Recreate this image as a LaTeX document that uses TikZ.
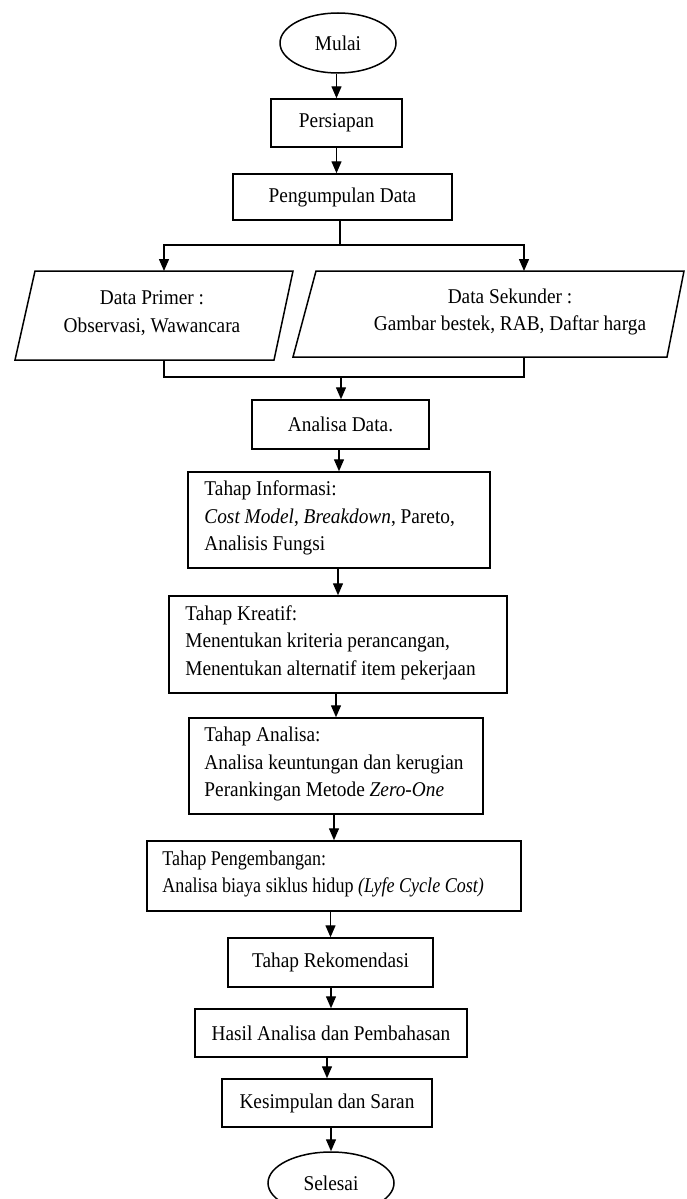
\documentclass[tikz,border=0pt]{standalone}
\usepackage{fontspec}
\setmainfont{Liberation Serif}[FakeStretch=0.92]
\newfontfamily\narrowserif{Liberation Serif}[FakeStretch=0.86]
\usetikzlibrary{shapes.geometric,arrows.meta,calc}
\begin{document}
\begin{tikzpicture}[x=1pt,y={(0pt,-1pt)},
 every node/.style={font=\fontsize{21}{27.5}\selectfont, inner sep=0pt},
 box/.style={draw, line width=1.5pt, rectangle, align=center},
 txt/.style={anchor=west, align=left},
 term/.style={draw, line width=1.5pt, ellipse},
 pgram/.style={line width=1.5pt},
 arr/.style={line width=1.4pt, -{Triangle[length=12pt,width=10pt]}},
 ln/.style={line width=1.3pt}]
\useasboundingbox (0,0) rectangle (686,1199);
% nodes
\node[term, minimum width=116pt, minimum height=60pt] (mulai) at (338,43) {Mulai};
\node[box, minimum width=131pt, minimum height=48pt] (persiapan) at (336.5,123) {Persiapan};
\node[box, minimum width=219pt, minimum height=46pt] (kumpul) at (342.5,197) {Pengumpulan Data};
\node[align=center] (dp) at (152,313) {Data Primer :\\Observasi, Wawancara};
\draw[pgram] ($(dp)+(-117,-42)$) -- ($(dp)+(141,-42)$) -- ($(dp)+(122,47)$) -- ($(dp)+(-137,47)$) -- cycle;
\node[align=center] (ds) at (510,312) {Data Sekunder :\\Gambar bestek, RAB, Daftar harga};
\draw[pgram] ($(ds)+(-194,-41)$) -- ($(ds)+(174,-41)$) -- ($(ds)+(157,45)$) -- ($(ds)+(-217,45)$) -- cycle;
\node[box, minimum width=177pt, minimum height=49pt] (ad) at (340.5,424.5) {Analisa Data.};
\node[box, minimum width=302pt, minimum height=96pt] (info) at (339,520) {};
\node[txt] (infoT) at ($(info.west)+(17,-2)$)
 {Tahap Informasi:\\\textit{Cost Model}, \textit{Breakdown}, Pareto,\\Analisis Fungsi};
\node[box, minimum width=338pt, minimum height=97pt] (kreatif) at (338,644.5) {};
\node[txt] (kreatifT) at ($(kreatif.west)+(17,-2)$)
 {Tahap Kreatif:\\Menentukan kriteria perancangan,\\Menentukan alternatif item pekerjaan};
\node[box, minimum width=294pt, minimum height=96pt] (analisa) at (336,766) {};
\node[txt] (analisaT) at ($(analisa.west)+(16,-2)$)
 {Tahap Analisa:\\Analisa keuntungan dan kerugian\\Perankingan Metode \textit{Zero-One}};
\node[box, minimum width=374pt, minimum height=70pt] (kembang) at (334,876) {};
\node[txt, font=\narrowserif\fontsize{21}{27.5}\selectfont] (kembangT) at ($(kembang.west)+(16,-2)$)
 {Tahap Pengembangan:\\Analisa biaya siklus hidup \textit{(Lyfe Cycle Cost)}};
\node[box, minimum width=205pt, minimum height=49pt] (rekom) at (330.5,962.5) {Tahap Rekomendasi};
\node[box, minimum width=272pt, minimum height=48pt] (hasil) at (331,1033) {Hasil Analisa dan Pembahasan};
\node[box, minimum width=210pt, minimum height=48pt] (simpul) at (327,1103) {Kesimpulan dan Saran};
\node[term, minimum width=126pt, minimum height=62pt] (selesai) at (331,1183) {Selesai};
% helper coordinates
\coordinate (split) at (340,245);
\coordinate (dpt) at (164,271);
\coordinate (dst) at (524,271);
\coordinate (dpb) at (164,360);
\coordinate (dsb) at (524,357);
\coordinate (merge) at (341,377);
% connectors
\draw[arr] (mulai.south -| persiapan.north) -- (persiapan.north);
\draw[arr] (persiapan.south) -- (persiapan.south |- kumpul.north);
\draw[ln] (kumpul.south -| split) -- (split);
\draw[arr] (split) -| (dpt);
\draw[arr] (split) -| (dst);
\draw[ln] (dpb) |- (merge) -| (dsb);
\draw[arr] (merge) -- (merge |- ad.north);
\draw[arr] (ad.south -| info.north) -- (info.north);
\draw[arr] (info.south -| kreatif.north) -- (kreatif.north);
\draw[arr] (kreatif.south -| analisa.north) -- (analisa.north);
\draw[arr] (analisa.south -| kembang.north) -- (kembang.north);
\draw[arr] (kembang.south -| rekom.north) -- (rekom.north);
\draw[arr] (rekom.south -| hasil.north) -- (hasil.north);
\draw[arr] (hasil.south -| simpul.north) -- (simpul.north);
\draw[arr] (simpul.south -| selesai.north) -- (selesai.north);
\end{tikzpicture}
\end{document}
